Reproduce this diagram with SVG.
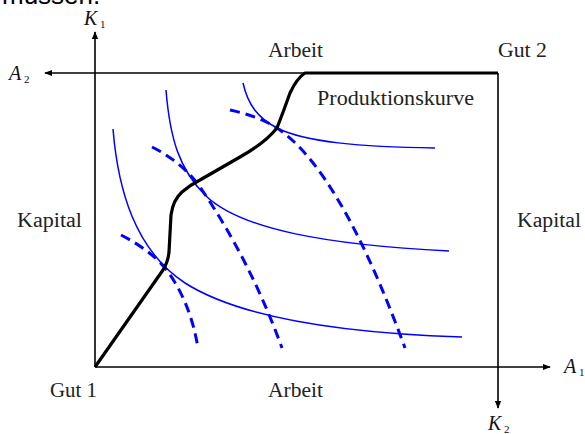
<svg xmlns="http://www.w3.org/2000/svg" width="585" height="434" viewBox="0 0 585 434">
<style>
.lbl{font-family:"Liberation Serif","DejaVu Serif",serif;font-size:20px;fill:#222}
.var{font-family:"Liberation Serif","DejaVu Serif",serif;font-size:20px;font-style:italic;fill:#111}
.sub{font-family:"Liberation Serif","DejaVu Serif",serif;font-size:11px;fill:#111}
.axis{stroke:#000;stroke-width:1.6;fill:none}
.prod{stroke:#000;stroke-width:3.2;fill:none;stroke-linejoin:round}
.iso{stroke:#0000ff;stroke-width:1.5;fill:none}
.iso2{stroke:#0000ff;stroke-width:3;fill:none;stroke-dasharray:10,6}
</style>
<defs>
<marker id="ah" viewBox="0 0 10 10" refX="9" refY="5" markerWidth="8" markerHeight="8" markerUnits="userSpaceOnUse" orient="auto">
<path d="M0,1 L10,5 L0,9 Z" fill="#000"/>
</marker>
</defs>
<text x="2" y="4" style="font-family:'Liberation Sans',Arial,sans-serif;font-size:26px;fill:#000">müssen.</text>
<g id="axes">
<line class="axis" x1="95" y1="367" x2="95" y2="32" marker-end="url(#ah)"/>
<line class="axis" x1="498" y1="73" x2="45" y2="73" marker-end="url(#ah)"/>
<line class="axis" x1="95" y1="367" x2="550" y2="367" marker-end="url(#ah)"/>
<line class="axis" x1="498" y1="73" x2="498" y2="408" marker-end="url(#ah)"/>
</g>
<g id="connectors">
<path id="isoquant1a" class="iso" d="M113,129 C118,190 135,250 185,283 C240,318 340,333 462,337"/>
<path id="isoquant1b" class="iso" d="M166,90 C170,140 180,170 205,195 C240,230 330,245 449,251"/>
<path id="isoquant1c" class="iso" d="M243,83 C248,105 258,118 277,128 C305,142 360,147 435,148"/>
<path id="isoquant2a" class="iso2" d="M121,235 Q150,250 165,268 Q190,300 198,348"/>
<path id="isoquant2b" class="iso2" d="M152,147 Q182,162 200,187 Q250,260 282,348"/>
<path id="isoquant2c" class="iso2" d="M230,110 Q258,116 277,128 Q340,170 405,348"/>
<path id="produktionskurve" class="prod" d="M95,367 L163,270 Q168,262 169,252 L171,215 Q173,200 182,192 Q190,185 200,180 L240,157 Q265,143 277,128 Q284,110 290,93 Q297,78 305,73 L498,73"/>
</g>
<g id="labels">
<text class="var" x="84" y="25">K</text><text class="sub" x="100" y="28">1</text>
<text class="var" x="9" y="80">A</text><text class="sub" x="24" y="83">2</text>
<text class="var" x="564" y="373">A</text><text class="sub" x="579" y="376">1</text>
<text class="var" x="488" y="430">K</text><text class="sub" x="504" y="433">2</text>
<text class="lbl" x="268" y="57" textLength="55" lengthAdjust="spacingAndGlyphs">Arbeit</text>
<text class="lbl" x="498" y="57" textLength="49" lengthAdjust="spacingAndGlyphs">Gut 2</text>
<text class="lbl" x="317" y="105" textLength="157" lengthAdjust="spacingAndGlyphs">Produktionskurve</text>
<text class="lbl" x="17" y="227" textLength="65" lengthAdjust="spacingAndGlyphs">Kapital</text>
<text class="lbl" x="517" y="227" textLength="64" lengthAdjust="spacingAndGlyphs">Kapital</text>
<text class="lbl" x="50" y="397" textLength="47" lengthAdjust="spacingAndGlyphs">Gut 1</text>
<text class="lbl" x="268" y="397" textLength="55" lengthAdjust="spacingAndGlyphs">Arbeit</text>
</g>
</svg>
